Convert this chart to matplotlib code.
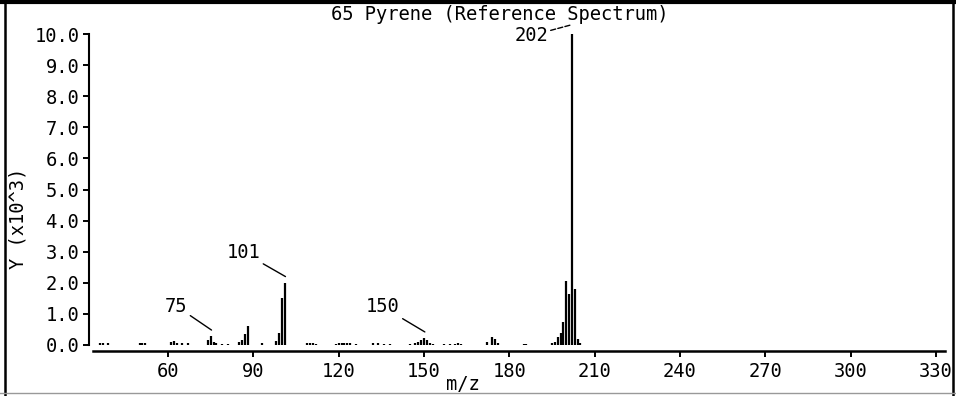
import matplotlib
matplotlib.use("Agg")
import matplotlib.pyplot as plt
from matplotlib.lines import Line2D

# ---- data (m/z, intensity in thousands) ----
mz = [36, 37, 39,
      50, 51, 52,
      61, 62, 63, 65, 67,
      74, 75, 76, 77, 79, 81,
      85, 86, 87, 88,
      93,
      98, 99, 100, 101,
      109, 110, 111, 112,
      119, 120, 121, 122, 123, 124, 126,
      132, 134, 136, 138,
      145, 147, 148, 149, 150, 151, 152, 153,
      157, 159, 161, 162, 163,
      172, 174, 175, 176,
      185, 186,
      195, 196, 197, 198, 199, 200, 201, 202, 203, 204, 205]
intensity = [0.05, 0.08, 0.05,
             0.06, 0.08, 0.05,
             0.10, 0.12, 0.08, 0.05, 0.06,
             0.15, 0.28, 0.10, 0.06, 0.04, 0.04,
             0.10, 0.15, 0.35, 0.62,
             0.05,
             0.12, 0.40, 1.50, 2.00,
             0.08, 0.06, 0.05, 0.04,
             0.04, 0.06, 0.08, 0.06, 0.08, 0.05, 0.04,
             0.05, 0.05, 0.04, 0.04,
             0.04, 0.06, 0.10, 0.15, 0.22, 0.15, 0.05, 0.04,
             0.04, 0.04, 0.04, 0.06, 0.04,
             0.10, 0.26, 0.20, 0.05,
             0.04, 0.04,
             0.05, 0.10, 0.25, 0.40, 0.75, 2.05, 1.65, 10.0, 1.80, 0.20, 0.05]

labels = [75, 101, 150, 202]
label_offsets = {75: (-24, 24), 101: (-25, 24), 150: (-25, 25), 202: (-24, -11)}

x_ticks = [60, 90, 120, 150, 180, 210, 240, 270, 300, 330]
y_ticks = [0, 1, 2, 3, 4, 5, 6, 7, 8, 9, 10]

title = "65 Pyrene (Reference Spectrum)"
xlabel = "m/z"
ylabel = "Y (x10^3)"

# ---- figure ----
FONT = "DejaVu Sans Mono"
FS = 13.5
W, H = 956, 396
fig = plt.figure(figsize=(W / 100, H / 100), dpi=100)

px_per = 85.33 / 30.0
def m_at(px):
    return 60 + (px - 168) / px_per

x0, x1 = m_at(89), m_at(945)
left, right = 89 / W, 945 / W
bottom, top = (H - 345) / H, (H - 34) / H
ax = fig.add_axes([left, bottom, right - left, top - bottom])

ax.vlines(mz, 0, intensity, colors="black", linewidth=1.6)

ax.set_xlim(x0, x1)
ax.set_ylim(0, 10)

for s in ("top", "right"):
    ax.spines[s].set_visible(False)
ax.spines["left"].set_linewidth(1.5)
ax.spines["bottom"].set_linewidth(1.8)
ax.spines["bottom"].set_position(("outward", 4.5))
ax.spines["bottom"].set_bounds(m_at(93), x1)
ax.spines["left"].set_bounds(0, 10)

ax.set_xticks(x_ticks)
ax.set_xticklabels([str(t) for t in x_ticks], fontfamily=FONT, fontsize=FS)
ax.set_yticks(y_ticks)
ax.set_yticklabels(["%.1f" % t for t in y_ticks], fontfamily=FONT, fontsize=FS)
ax.tick_params(axis="x", direction="out", length=4, width=1.4, pad=4)
ax.tick_params(axis="y", direction="out", length=4, width=1.4, pad=3)

# peak labels
for m in labels:
    i = mz.index(m)
    y = intensity[i]
    dx, dy = label_offsets[m]
    if m == 202:
        xy = (m, y + 0.3)
    else:
        xy = (m + 0.3, y + 0.2)
    ax.annotate(str(m), xy=xy, xytext=(dx, dy), textcoords="offset pixels",
                ha="right", va="center", fontfamily=FONT, fontsize=FS,
                arrowprops=dict(arrowstyle="-", color="black", lw=1.0,
                                shrinkA=0, shrinkB=0,
                                linestyle="--" if m == 202 else "-"),
                annotation_clip=False)

fig.text(500 / W, 1 - 15 / H, title, ha="center", va="center",
         fontfamily=FONT, fontsize=FS)
fig.text(463 / W, 1 - 385 / H, xlabel, ha="center", va="center",
         fontfamily=FONT, fontsize=FS)
fig.text(18 / W, 1 - 218 / H, ylabel, ha="center", va="center", rotation=90,
         fontfamily=FONT, fontsize=FS)

# scanned page frame
fig.add_artist(Line2D([0, 1], [1 - 2 / H, 1 - 2 / H], color="black", lw=3,
                      transform=fig.transFigure))
fig.add_artist(Line2D([5 / W, 5 / W], [0, 1], color="black", lw=1.8,
                      transform=fig.transFigure))
fig.add_artist(Line2D([953 / W, 953 / W], [0, 1], color="black", lw=1.8,
                      transform=fig.transFigure))
fig.add_artist(Line2D([0, 1], [3 / H, 3 / H], color="#999999", lw=1.0,
                      transform=fig.transFigure))

fig.savefig("out.png", dpi=100, facecolor="white")
